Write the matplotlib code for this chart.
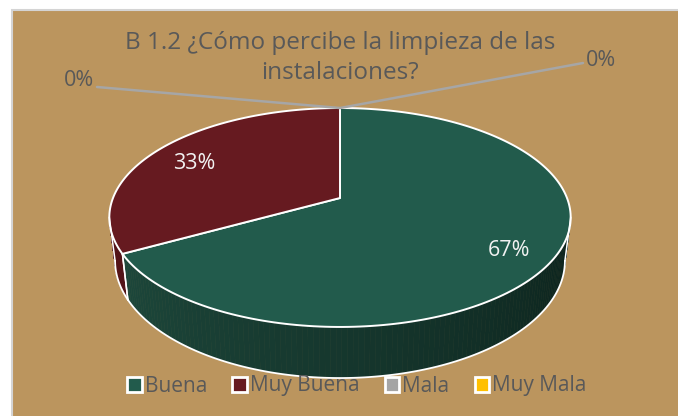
import numpy as np
import matplotlib.pyplot as plt
from matplotlib.patches import Polygon, Rectangle, Patch
from matplotlib.colors import to_rgb

# --- Data ---
categories = ["Buena", "Muy Buena", "Mala", "Muy Mala"]
values = [67, 33, 0, 0]
labels = ["67%", "33%", "0%", "0%"]
top_colors = ["#225B4C", "#661A20", "#A5A5A5", "#FFC000"]
side_light = ["#1F4C3F", "#561519", "#8C8C8C", "#D9A300"]
side_dark = ["#0C221C", "#3A0D10", "#5F5F5F", "#8F6B00"]
title = "B 1.2 ¿Cómo percibe la limpieza de las\ninstalaciones?"

BG = "#BB955E"
GREY = "#595959"
FONT = "Open Sans"

# --- 3D pie geometry (pixel space) ---
cx, cy = 340, 198
A, B, P = 227, 106, 0.178
DEPTH = 42
BOT_SHRINK = 0.975


def proj(theta, r=1.0, down=0.0):
    X = r * np.sin(theta)
    Z = r * np.cos(theta)
    s = 1 + P * Z
    a = A * (BOT_SHRINK if down else 1.0)
    return cx + a * X / s, cy + (-B * Z + down) / s


fig = plt.figure(figsize=(6.78, 4.16), dpi=100)
fig.patch.set_facecolor("white")
ax = fig.add_axes([0, 0, 1, 1])
ax.set_xlim(0, 678)
ax.set_ylim(416, 0)
ax.axis("off")
ax.add_patch(Rectangle((12, 10), 680, 420, facecolor=BG, edgecolor="#D4D4D4", lw=1.5))

fracs = np.array(values, dtype=float) / sum(values)
starts = np.concatenate([[0], np.cumsum(fracs)[:-1]]) * 2 * np.pi
ends = np.cumsum(fracs) * 2 * np.pi

vis_lo = np.arccos(-P)
vis_hi = 2 * np.pi - vis_lo

# --- side walls ---
for i in range(len(values)):
    if values[i] == 0:
        continue
    a0, a1 = max(starts[i], vis_lo), min(ends[i], vis_hi)
    if a1 <= a0:
        continue
    ts = np.linspace(a0, a1, 120)
    c_l, c_d = np.array(to_rgb(side_light[i])), np.array(to_rgb(side_dark[i]))
    for t0, t1 in zip(ts[:-1], ts[1:]):
        f = np.clip(((t0 + t1) / 2 - vis_lo) / (vis_hi - vis_lo), 0, 1)
        col = c_d * (1 - f) + c_l * f
        quad = [proj(t0), proj(t1), proj(t1, down=DEPTH), proj(t0, down=DEPTH)]
        ax.add_patch(Polygon(quad, closed=True, facecolor=col, edgecolor=col, lw=0.4))
    bottom = np.array([proj(t, down=DEPTH) for t in ts])
    ax.plot(bottom[:, 0], bottom[:, 1], color="white", lw=1.3)
    for t in (a0, a1):
        p0, p1 = proj(t), proj(t, down=DEPTH)
        ax.plot([p0[0], p1[0]], [p0[1], p1[1]], color="white", lw=1.1)

# --- top face ---
for i in range(len(values)):
    if values[i] == 0:
        continue
    ts = np.linspace(starts[i], ends[i], 200)
    pts = [(cx, cy)] + [proj(t) for t in ts]
    ax.add_patch(Polygon(pts, closed=True, facecolor=top_colors[i],
                         edgecolor="white", lw=1.4, joinstyle="round"))

# --- labels ---
for i in range(len(values)):
    if values[i] == 0:
        continue
    mid = (starts[i] + ends[i]) / 2
    lx, ly = proj(mid, r=0.8)
    ax.text(lx, ly + 6, labels[i], color="#F2F2F2", fontsize=15.5,
            family=FONT, ha="center", va="center")

# zero slices: leader lines from the top point
tx, ty = proj(0.0)
zero_idx = [i for i in range(len(values)) if values[i] == 0]
anchors = [(97, 87), (583, 63)]
for (ax_, ay_), i in zip(anchors, zero_idx):
    ax.plot([tx, ax_], [ty, ay_], color="#A6A6A6", lw=1.8, solid_capstyle="round")
    if ax_ < cx:
        ax.text(ax_ - 3, ay_ - 7, labels[i], color=GREY, fontsize=15.5,
                family=FONT, ha="right", va="center")
    else:
        ax.text(ax_ + 3, ay_ - 3, labels[i], color=GREY, fontsize=15.5,
                family=FONT, ha="left", va="center")

# --- title ---
ax.text(340, 58, title, color=GREY, fontsize=17.5, family=FONT,
        ha="center", va="center", linespacing=1.3)

# --- legend ---
handles = [Patch(facecolor=c, edgecolor="white", lw=2.0) for c in top_colors]
leg = ax.legend(handles, categories, loc="center", bbox_to_anchor=(357 / 678, 1 - 386 / 416),
                ncol=4, frameon=False, handlelength=0.7, handleheight=0.7,
                handletextpad=0.15, columnspacing=1.2,
                prop={"family": FONT, "size": 15})
for t in leg.get_texts():
    t.set_color(GREY)

fig.savefig("out.png", dpi=100, facecolor=fig.get_facecolor())
